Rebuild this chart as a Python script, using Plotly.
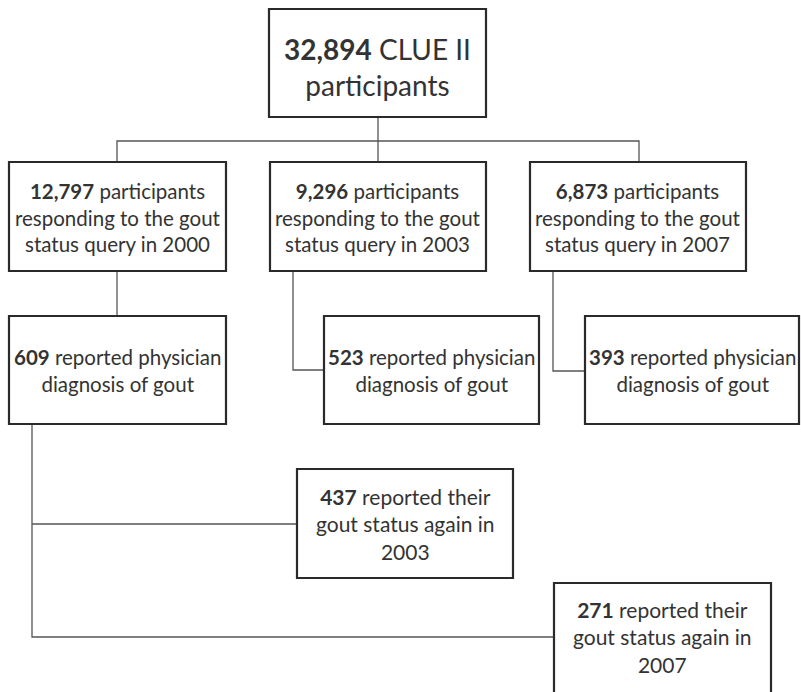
import plotly.graph_objects as go

# Node texts: (bold count, rest of text lines)
counts = ["32,894", "12,797", "9,296", "6,873", "609", "523", "393", "437", "271"]
first_rest = [" CLUE II", " participants", " participants", " participants",
              " reported physician", " reported physician", " reported physician",
              " reported their", " reported their"]
other_lines = [
    ["participants"],
    ["responding to the gout", "status query in 2000"],
    ["responding to the gout", "status query in 2003"],
    ["responding to the gout", "status query in 2007"],
    ["diagnosis of gout"],
    ["diagnosis of gout"],
    ["diagnosis of gout"],
    ["gout status again in", "2003"],
    ["gout status again in", "2007"],
]

# Layout geometry (pixels): x0, x1, y0, y1, font size
boxes = [
    (269, 486, 9, 117, 28),
    (9, 226, 162, 271, 20.5),
    (270, 486, 162, 271, 20.5),
    (530, 746, 162, 271, 20.5),
    (9, 226, 316, 424, 20.5),
    (324, 539, 316, 424, 20.5),
    (585, 799, 316, 424, 20.5),
    (297, 513, 469, 578, 21),
    (554, 771, 583, 700, 21),
]
text_y = [67, 217, 217, 217, 370, 370, 370, 524, 637]

connectors = [
    [(378, 117), (378, 141)],
    [(117, 162), (117, 141), (639, 141), (639, 162)],
    [(378, 141), (378, 162)],
    [(117, 271), (117, 316)],
    [(293, 271), (293, 370), (324, 370)],
    [(553, 271), (553, 371), (585, 371)],
    [(32, 424), (32, 637), (554, 637)],
    [(32, 524), (297, 524)],
]

fig = go.Figure()
shapes = []
for pts in connectors:
    path = "M " + " L ".join(f"{x},{y}" for x, y in pts)
    shapes.append(dict(type="path", path=path, xref="x", yref="y",
                       line=dict(color="#555555", width=1.3)))
for (x0, x1, y0, y1, fs) in boxes:
    shapes.append(dict(type="rect", x0=x0, x1=x1, y0=y0, y1=y1, xref="x", yref="y",
                       line=dict(color="#2a2a2a", width=2.2), fillcolor="white"))

annotations = []
for i, (x0, x1, y0, y1, fs) in enumerate(boxes):
    txt = f"<b>{counts[i]}</b>{first_rest[i]}<br>" + "<br>".join(other_lines[i])
    annotations.append(dict(x=(x0 + x1) / 2, y=text_y[i], xref="x", yref="y",
                            text=txt, showarrow=False, align="center",
                            font=dict(family="Lato, Open Sans, sans-serif", size=fs, color="#333333")))

fig.update_layout(
    width=801, height=692,
    margin=dict(l=0, r=0, t=0, b=0),
    paper_bgcolor="white", plot_bgcolor="white",
    xaxis=dict(range=[0, 801], visible=False, fixedrange=True),
    yaxis=dict(range=[692, 0], visible=False, fixedrange=True),
    shapes=shapes, annotations=annotations, showlegend=False,
)
fig.write_html("out.html", config={"displayModeBar": False},
               post_script="document.body.style.margin='0';document.body.style.overflow='hidden';")
